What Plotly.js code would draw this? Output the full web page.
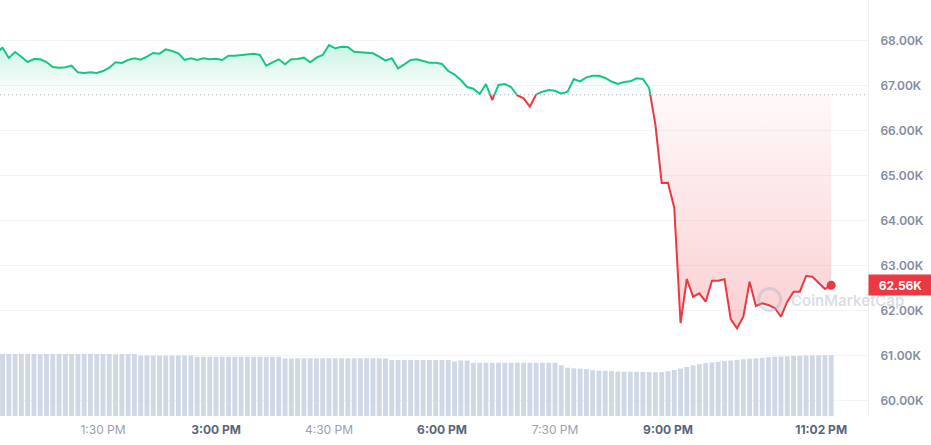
<!DOCTYPE html>
<html>
<head>
<meta charset="utf-8">
<script src="https://cdn.plot.ly/plotly-3.0.1.min.js"></script>
<style>html,body{margin:0;padding:0;background:#fff;}#chart{width:931px;height:445px;}</style>
</head>
<body>
<div id="chart"></div>
<script>
// ---- data ----
const startMinute = 725;      // 12:05 PM, minutes after midnight
const stepMinutes = 5;
const basePrice = 66795;      // reference (open) price, dotted line
const prices = [
67722,67840,67611,67744,67640,67522,67589,67582,67522,67411,
67396,67404,67440,67293,67278,67293,67278,67322,67396,67516,
67500,67567,67604,67573,67640,67722,67707,67804,67767,67716,
67567,67604,67567,67604,67582,67596,67567,67662,67662,67678,
67689,67707,67678,67440,67516,67582,67471,67582,67589,67618,
67516,67618,67678,67900,67827,67862,67856,67751,67738,67727,
67716,67640,67551,67604,67382,67471,67567,67582,67544,67507,
67507,67478,67322,67244,67122,66967,66929,66810,67033,66678,
67011,67033,66967,66780,66716,66529,66800,66862,66900,66884,
66820,66862,67144,67093,67182,67218,67218,67167,67089,67033,
67078,67093,67160,67144,66944,66122,64833,64840,64278,61722,
62700,62307,62382,62196,62662,62662,62693,61804,61604,61862,
62640,62100,62160,62122,62056,61862,62196,62418,62418,62767,
62751,62604,62478,62560
];
const volumes = [
29.8,29.9,29.8,29.8,29.9,29.8,29.8,29.7,29.8,29.8,
29.9,29.8,29.8,29.8,29.8,29.9,29.8,29.8,29.8,29.7,
29.8,29.8,29.8,29.1,29.1,29.1,29.1,29.1,29.1,29.1,
29.1,29.1,28.5,28.5,28.5,28.5,28.5,28.5,28.5,28.5,
28.5,28.5,28.5,28.5,28.5,28.5,27.7,27.7,27.7,27.7,
27.7,27.7,27.7,27.7,27.7,27.7,27.7,27.7,27.7,27.7,
27.7,27.7,27.7,26.9,26.9,26.9,26.9,26.9,26.9,26.9,
26.9,26.9,26.9,26.2,26.7,26.7,25.6,25.6,25.6,25.6,
25.6,25.6,25.6,25.6,25.6,25.6,25.6,25.6,25.6,25.6,
24.4,23.2,22.9,22.8,22.5,22.0,21.8,21.7,21.6,21.4,
21.3,21.3,21.2,21.2,21.1,21.0,21.1,21.5,22.1,22.8,
23.6,24.3,24.9,25.4,25.7,26.0,26.4,26.7,27.0,27.3,
27.5,27.7,28.0,28.3,28.5,28.6,28.7,28.9,29.0,29.1,
29.2,29.2,29.2,29.3
];
const yTickVals = [60000,61000,62000,63000,64000,65000,66000,67000,68000];
const yTickText = ["60.00K","61.00K","62.00K","63.00K","64.00K","65.00K","66.00K","67.00K","68.00K"];
const xTickVals = [810,900,990,1080,1170,1260,1382];
const xTickLabels = ["1:30 PM","3:00 PM","4:30 PM","6:00 PM","7:30 PM","9:00 PM","11:02 PM"];
const xTickBold = [false,true,false,true,false,true,true];
const lastLabel = "62.56K";
const watermark = "CoinMarketCap";

// ---- build ----
const times = prices.map((_, i) => startMinute + i * stepMinutes);
const GREEN = "#16c784", RED = "#ea3943";

// augmented series with baseline crossings
const ax = [], ay = [];
for (let i = 0; i < prices.length; i++) {
  ax.push(times[i]); ay.push(prices[i]);
  if (i < prices.length - 1) {
    const a = prices[i] - basePrice, b = prices[i+1] - basePrice;
    if (a * b < 0) {
      const f = -a / (b - a);
      ax.push(times[i] + f * (times[i+1] - times[i])); ay.push(basePrice);
    }
  }
}
const baseY = ax.map(() => basePrice);
const upY = ay.map(v => Math.max(v, basePrice));
const dnY = ay.map(v => Math.min(v, basePrice));
const greenLine = ay.map(v => v >= basePrice ? v : null);
const redLine = ay.map(v => v <= basePrice ? v : null);

const tickText = xTickLabels.map((t, i) => xTickBold[i]
  ? '<span style="color:#58667e"><b>' + t + '</b></span>'
  : '<span style="color:#9aa1b0">' + t + '</span>');

const traces = [
  {type:'bar', x: times, y: volumes, yaxis:'y2', marker:{color:'#d1d8e5'}, hoverinfo:'skip', showlegend:false},
  {type:'scatter', mode:'lines', x: ax, y: baseY, line:{width:0}, hoverinfo:'skip', showlegend:false},
  {type:'scatter', mode:'lines', x: ax, y: upY, fill:'tonexty', line:{width:0},
   fillcolor:'rgba(22,199,132,0.1)',
   fillgradient:{type:'vertical', start: basePrice, stop: 67900,
     colorscale:[[0,'rgba(22,199,132,0.0)'],[1,'rgba(22,199,132,0.22)']]},
   hoverinfo:'skip', showlegend:false},
  {type:'scatter', mode:'lines', x: ax, y: baseY, line:{width:0}, hoverinfo:'skip', showlegend:false},
  {type:'scatter', mode:'lines', x: ax, y: dnY, fill:'tonexty', line:{width:0},
   fillcolor:'rgba(234,57,67,0.1)',
   fillgradient:{type:'vertical', start: 61600, stop: basePrice,
     colorscale:[[0,'rgba(234,57,67,0.24)'],[1,'rgba(234,57,67,0.03)']]},
   hoverinfo:'skip', showlegend:false},
  {type:'scatter', mode:'lines', x: ax, y: greenLine, connectgaps:false, line:{color:GREEN, width:2}, showlegend:false},
  {type:'scatter', mode:'lines', x: ax, y: redLine, connectgaps:false, line:{color:RED, width:2}, showlegend:false},
  {type:'scatter', mode:'markers', x:[times[times.length-1]], y:[prices[prices.length-1]],
   marker:{color:RED, size:9}, showlegend:false}
];

const layout = {
  width: 931, height: 445,
  margin: {l:0, r:63, t:0, b:29},
  paper_bgcolor:'#ffffff', plot_bgcolor:'#ffffff',
  font: {family:'Inter, "Noto Sans", sans-serif', size:12, color:'#858ca2'},
  showlegend:false,
  bargap: 0.22,
  xaxis: {range:[727.97, 1419.3], tickvals: xTickVals, ticktext: tickText,
          showgrid:false, zeroline:false, showline:false, ticks:'',
          ticklabelstandoff: 5, tickfont:{size:12, family:'Inter, sans-serif'}, fixedrange:true},
  yaxis: {range:[59656, 68900], side:'right', tickvals: yTickVals, ticktext: yTickText,
          showgrid:true, gridcolor:'#f3f4f6', gridwidth:1, zeroline:false,
          showline:true, linecolor:'#eef0f3', linewidth:1, ticks:'',
          ticklabelstandoff: 9,
          tickfont:{size:12, color:'#858ca2', family:'Inter, sans-serif', weight:600}},
  yaxis2: {range:[0, 200], overlaying:'y', visible:false, fixedrange:true},
  shapes: [
    {type:'line', xref:'paper', x0:0, x1:1, yref:'y', y0:basePrice, y1:basePrice,
     line:{color:'#aab1bf', width:1, dash:'1px,3px'}},
    {type:'circle', xref:'x', xsizemode:'pixel', xanchor:1341, x0:-11, x1:11,
     yref:'y', ysizemode:'pixel', yanchor:62245, y0:-11, y1:11,
     line:{color:'rgba(170,180,198,0.4)', width:3}}
  ],
  annotations: [
    {xref:'x', x:1402.9, yref:'y', y:62230, text: watermark, showarrow:false,
     font:{size:15, color:'rgba(170,180,198,0.45)', family:'Inter, sans-serif', weight:600}},
    {xref:'paper', x:1, xanchor:'left', yref:'y', y: prices[prices.length-1], yanchor:'middle',
     text:'<b>' + lastLabel + '</b>', showarrow:false, bgcolor:RED, width:61, height:18,
     borderpad:1, font:{color:'#ffffff', size:12, family:'Inter, sans-serif'}, align:'center'}
  ]
};

Plotly.newPlot('chart', traces, layout, {displayModeBar:false, staticPlot:true});
</script>
</body>
</html>
